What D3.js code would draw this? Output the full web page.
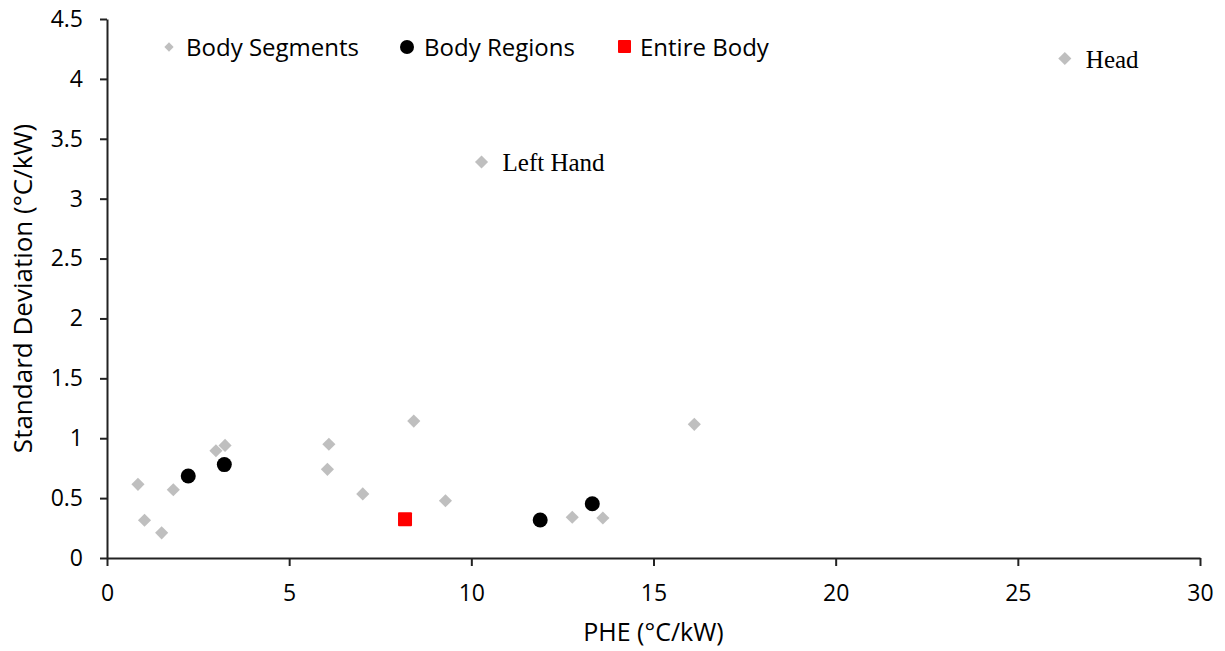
<!DOCTYPE html>
<html>
<head>
<meta charset="utf-8">
<title>PHE vs SD</title>
<script src="https://cdn.jsdelivr.net/npm/d3@7"></script>
<style>
  body { margin: 0; background: #fff; }
  svg text { font-family: "Open Sans", Lato, sans-serif; fill: #000; }
  .lbl { font-family: "Liberation Serif", "DejaVu Serif", serif; font-size: 25px; }
</style>
</head>
<body>
<div id="chart"></div>
<script>
  // data
  const segPHE = [0.85, 1.03, 1.50, 1.82, 2.99, 3.24, 6.09, 6.05, 7.02, 8.42, 9.29, 12.77, 13.61, 16.12, 10.28, 26.29];
  const segSD  = [0.615, 0.315, 0.21, 0.57, 0.895, 0.94, 0.95, 0.74, 0.535, 1.143, 0.478, 0.34, 0.334, 1.116, 3.306, 4.17];
  const segName = ["", "", "", "", "", "", "", "", "", "", "", "", "", "", "Left Hand", "Head"];

  const regPHE = [2.23, 3.22, 11.89, 13.32];
  const regSD  = [0.685, 0.78, 0.317, 0.453];

  const bodyPHE = [8.18];
  const bodySD  = [0.323];

  const xTicks = [0, 5, 10, 15, 20, 25, 30];
  const yTicks = [0, 0.5, 1, 1.5, 2, 2.5, 3, 3.5, 4, 4.5];

  let width = 1225, height = 651;
  let margin = {left: 107, right: 25, top: 19, bottom: 93};

  const svg = d3.select("#chart").append("svg")
    .attr("width", width)
    .attr("height", height);

  const x = d3.scaleLinear().domain([0, 30]).range([margin.left, width - margin.right]);
  const y = d3.scaleLinear().domain([0, 4.5]).range([height - margin.bottom, margin.top]);

  // axes
  const xAxis = svg.append("g")
    .attr("transform", `translate(0,${y(0)})`)
    .call(d3.axisBottom(x).tickValues(xTicks).tickSize(8).tickPadding(19).tickSizeOuter(0));
  const yAxis = svg.append("g")
    .attr("transform", `translate(${x(0)},0)`)
    .call(d3.axisLeft(y).tickValues(yTicks).tickFormat(d3.format("")).tickSize(7).tickPadding(17).tickSizeOuter(0));

  [xAxis, yAxis].forEach(a => {
    a.select(".domain").attr("stroke", "#222").attr("stroke-width", 2);
    a.selectAll(".tick line").attr("stroke", "#222").attr("stroke-width", 2);
    a.selectAll(".tick text").attr("font-size", 23).attr("font-family", "'Open Sans', sans-serif").attr("fill", "#000");
  });

  svg.append("text")
    .attr("x", (x(0) + x(30)) / 2)
    .attr("y", 641)
    .attr("text-anchor", "middle")
    .attr("font-size", 25)
    .text("PHE (°C/kW)");

  svg.append("text")
    .attr("transform", `translate(32,${(y(0) + y(4.5)) / 2}) rotate(-90)`)
    .attr("text-anchor", "middle")
    .attr("font-size", 26)
    .text("Standard Deviation (°C/kW)");

  const diamond = d3.symbol().type(d3.symbolDiamond2).size(110);
  const seg = segPHE.map((v, i) => ({x: v, y: segSD[i], name: segName[i]}));

  svg.append("g").selectAll("path")
    .data(seg)
    .enter().append("path")
      .attr("d", diamond)
      .attr("transform", d => `translate(${x(d.x)},${y(d.y)})`)
      .attr("fill", "#bfbfbf");

  svg.append("g").selectAll("text")
    .data(seg.filter(d => d.name))
    .enter().append("text")
      .attr("class", "lbl")
      .attr("x", d => x(d.x) + 21)
      .attr("y", d => y(d.y) + 9)
      .text(d => d.name);

  svg.append("g").selectAll("circle")
    .data(regPHE.map((v, i) => [v, regSD[i]]))
    .enter().append("circle")
      .attr("cx", d => x(d[0]))
      .attr("cy", d => y(d[1]))
      .attr("r", 7.5)
      .attr("fill", "#000");

  svg.append("g").selectAll("rect")
    .data(bodyPHE.map((v, i) => [v, bodySD[i]]))
    .enter().append("rect")
      .attr("x", d => x(d[0]) - 7)
      .attr("y", d => y(d[1]) - 7)
      .attr("width", 14)
      .attr("height", 14)
      .attr("rx", 1)
      .attr("fill", "#ff0000");

  // legend
  const legend = svg.append("g").attr("transform", "translate(0,47)");
  legend.append("path")
    .attr("d", d3.symbol().type(d3.symbolDiamond2).size(55))
    .attr("transform", "translate(169,0)")
    .attr("fill", "#bfbfbf");
  legend.append("text").attr("x", 186).attr("y", 9).attr("font-size", 24).text("Body Segments");
  legend.append("circle").attr("cx", 407).attr("cy", 0).attr("r", 7).attr("fill", "#000");
  legend.append("text").attr("x", 424).attr("y", 9).attr("font-size", 24).text("Body Regions");
  legend.append("rect").attr("x", 618).attr("y", -7).attr("width", 13).attr("height", 13).attr("rx", 1).attr("fill", "#ff0000");
  legend.append("text").attr("x", 640).attr("y", 9).attr("font-size", 24).text("Entire Body");
</script>
</body>
</html>
